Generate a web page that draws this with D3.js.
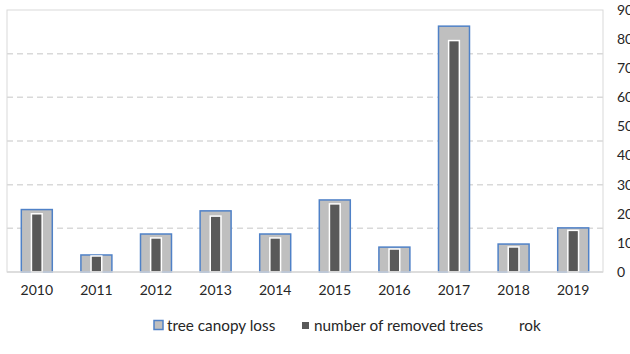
<!DOCTYPE html>
<html>
<head>
<meta charset="utf-8">
<script src="https://cdn.jsdelivr.net/npm/d3@7"></script>
<style>
  html, body { margin: 0; padding: 0; background: #fff; }
  svg { display: block; font-family: Lato, "Open Sans", sans-serif; }
</style>
</head>
<body>
<div id="chart"></div>
<script>
// years on the x axis
const years = ["2010", "2011", "2012", "2013", "2014", "2015", "2016", "2017", "2018", "2019"];
// primary axis (labels cropped off in the source image)
const canopyLoss = [1.43, 0.39, 0.87, 1.40, 0.87, 1.65, 0.57, 5.63, 0.64, 1.01];
// secondary axis, right side
const removedTrees = [20, 5.5, 11.7, 19.2, 11.7, 23.4, 7.9, 79.5, 8.6, 14.3];
const rightTicks = [0, 10, 20, 30, 40, 50, 60, 70, 80, 90];
const legendLabels = ["tree canopy loss", "number of removed trees", "rok"];

const width = 630, height = 354;
const margin = { top: 10, right: 27, bottom: 82, left: 7 };
const plotW = width - margin.left - margin.right;
const plotH = height - margin.top - margin.bottom;

const svg = d3.select("#chart").append("svg")
  .attr("width", width)
  .attr("height", height);

const g = svg.append("g")
  .attr("transform", `translate(${margin.left},${margin.top})`);

const x = d3.scaleBand().domain(years).range([0, plotW]);
const outerW = x.bandwidth() * 0.52;
const innerW = x.bandwidth() * 0.18;
const cx = d => x(d) + x.bandwidth() / 2;

const y = d3.scaleLinear().domain([0, 6]).range([plotH, 0]);
const y2 = d3.scaleLinear().domain([0, 90]).range([plotH, 0]);

// plot frame
g.append("rect")
  .attr("width", plotW)
  .attr("height", plotH)
  .attr("fill", "none")
  .attr("stroke", "#d9d9d9")
  .attr("stroke-width", 1);

// dashed gridlines from primary axis
g.append("g")
  .selectAll("line")
  .data(y.ticks(6).filter(d => d > 0 && d < 6))
  .enter().append("line")
  .attr("x1", 0)
  .attr("x2", plotW)
  .attr("y1", d => y(d))
  .attr("y2", d => y(d))
  .attr("stroke", "#d9d9d9")
  .attr("stroke-width", 1.5)
  .attr("stroke-dasharray", "6,4");

// outer bars: tree canopy loss
g.append("g")
  .selectAll("rect")
  .data(canopyLoss)
  .enter().append("rect")
  .attr("x", (d, i) => cx(years[i]) - outerW / 2)
  .attr("y", d => y(d))
  .attr("width", outerW)
  .attr("height", d => plotH - y(d))
  .attr("fill", "#bfbfbf")
  .attr("stroke", "#4f81c7")
  .attr("stroke-width", 1.5);

// inner bars: number of removed trees
g.append("g")
  .selectAll("rect")
  .data(removedTrees)
  .enter().append("rect")
  .attr("x", (d, i) => cx(years[i]) - innerW / 2)
  .attr("y", d => y2(d))
  .attr("width", innerW)
  .attr("height", d => plotH - y2(d))
  .attr("fill", "#595959")
  .attr("stroke", "#ffffff")
  .attr("stroke-width", 1.5);

// x axis line
g.append("line")
  .attr("x1", 0).attr("x2", plotW)
  .attr("y1", plotH).attr("y2", plotH)
  .attr("stroke", "#d9d9d9")
  .attr("stroke-width", 1.5);

// x labels
g.append("g")
  .selectAll("text")
  .data(years)
  .enter().append("text")
  .attr("x", d => cx(d))
  .attr("y", plotH + 23)
  .attr("text-anchor", "middle")
  .attr("font-size", 14)
  .attr("fill", "#262626")
  .text(d => d);

// right axis labels (cut by the image edge, like the source)
g.append("g")
  .selectAll("text")
  .data(rightTicks)
  .enter().append("text")
  .attr("x", plotW + 14)
  .attr("y", d => y2(d))
  .attr("dy", "0.35em")
  .attr("font-size", 14)
  .attr("fill", "#262626")
  .text(d => d);

// legend
const legend = svg.append("g").attr("transform", "translate(0,326)");
legend.append("rect")
  .attr("x", 154).attr("y", -5.5)
  .attr("width", 9).attr("height", 9)
  .attr("fill", "#bfbfbf")
  .attr("stroke", "#4f81c7")
  .attr("stroke-width", 1.5);
legend.append("text")
  .attr("x", 167).attr("dy", "0.35em")
  .attr("font-size", 15.3).attr("fill", "#262626")
  .text(legendLabels[0]);
legend.append("rect")
  .attr("x", 302).attr("y", -4)
  .attr("width", 7).attr("height", 7)
  .attr("fill", "#595959");
legend.append("text")
  .attr("x", 314).attr("dy", "0.35em")
  .attr("font-size", 15.3).attr("fill", "#262626")
  .text(legendLabels[1]);
legend.append("text")
  .attr("x", 519).attr("dy", "0.35em")
  .attr("font-size", 15.3).attr("fill", "#262626")
  .text(legendLabels[2]);
</script>
</body>
</html>
